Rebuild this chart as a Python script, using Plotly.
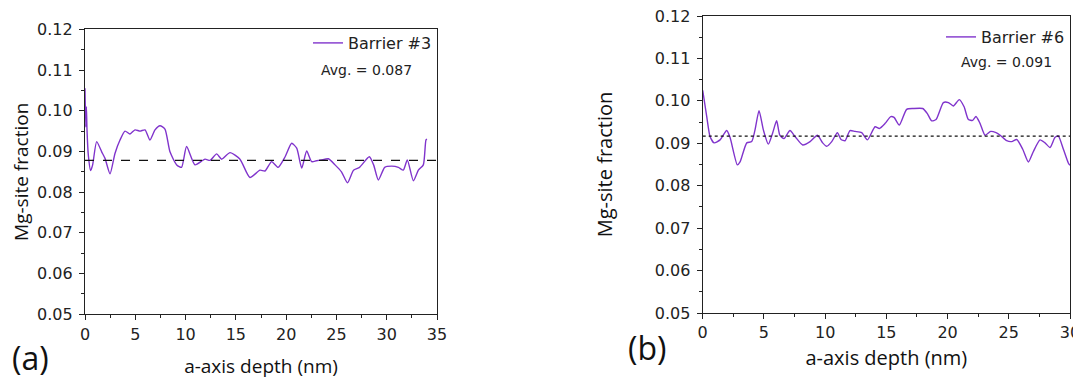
import plotly.graph_objects as go

# ---------------- data ----------------
depth_a = [0.0, 0.08, 0.14, 0.2, 0.33, 0.56, 0.76, 1.16, 1.66, 1.99, 2.49, 2.98, 3.48, 3.98, 4.47,
           4.97, 5.47, 5.97, 6.46, 6.96, 7.46, 7.95, 8.45, 9.12, 9.6, 10.1, 10.94, 11.93, 12.43,
           13.09, 13.59, 14.42, 15.41, 16.4, 17.4, 17.9, 18.56, 19.2, 19.9, 20.55, 21.05, 21.55,
           22.04, 22.54, 23.0, 23.5, 24.2, 24.86, 25.5, 26.1, 26.7, 27.3, 28.27, 28.7, 29.17,
           29.8, 30.5, 31.16, 31.65, 32.05, 32.65, 33.15, 33.64, 33.9, 34.0]
mg_a = [0.1055, 0.0960, 0.1010, 0.0953, 0.0891, 0.0853, 0.0867, 0.0924, 0.0899, 0.0883, 0.0845,
        0.0895, 0.0928, 0.0950, 0.0943, 0.0953, 0.0950, 0.0953, 0.0928, 0.0953, 0.0963, 0.0955,
        0.0899, 0.0867, 0.0861, 0.0912, 0.0867, 0.0881, 0.0878, 0.0894, 0.0881, 0.0897, 0.0881,
        0.0836, 0.0854, 0.0852, 0.0875, 0.0861, 0.0887, 0.0920, 0.0908, 0.0859, 0.0901, 0.0875,
        0.0877, 0.0879, 0.0882, 0.0867, 0.0850, 0.0823, 0.0854, 0.0861, 0.0887, 0.0867, 0.0830,
        0.0861, 0.0864, 0.0861, 0.0854, 0.0879, 0.0828, 0.0854, 0.0867, 0.0928, 0.0930]
avg_a = 0.0878
avg_a_label = "Avg. = 0.087"
name_a = "Barrier #3"

depth_b = [0.0, 0.33, 0.6, 0.93, 1.42, 1.96, 2.23, 2.83, 3.05, 3.6, 4.0, 4.27, 4.6, 4.96, 5.36,
           5.72, 6.04, 6.3, 6.64, 7.13, 7.54, 8.17, 8.77, 9.37, 9.8, 10.13, 10.54, 11.0, 11.3,
           11.63, 12.03, 12.44, 12.99, 13.45, 14.08, 14.43, 14.9, 15.36, 15.63, 16.06, 16.66,
           17.2, 17.97, 18.35, 18.7, 19.06, 19.66, 20.07, 20.47, 20.96, 21.35, 21.7, 22.05,
           22.32, 22.65, 23.06, 23.52, 23.96, 24.3, 24.83, 25.24, 25.65, 26.14, 26.6, 27.0,
           27.55, 27.96, 28.37, 28.78, 29.05, 29.46, 29.87, 30.0]
mg_b = [0.1025, 0.0963, 0.0916, 0.0901, 0.0908, 0.0930, 0.0914, 0.0849, 0.0856, 0.0901, 0.0904,
        0.0931, 0.0977, 0.0931, 0.0898, 0.0925, 0.0953, 0.0919, 0.0911, 0.0930, 0.0916, 0.0896,
        0.0904, 0.0919, 0.0901, 0.0893, 0.0904, 0.0925, 0.0909, 0.0906, 0.0930, 0.0928, 0.0925,
        0.0908, 0.0939, 0.0935, 0.0947, 0.0963, 0.0961, 0.0943, 0.0980, 0.0982, 0.0982, 0.0970,
        0.0953, 0.0956, 0.0996, 0.0996, 0.0988, 0.1003, 0.0986, 0.0956, 0.0954, 0.0963, 0.0947,
        0.0919, 0.0928, 0.0925, 0.0919, 0.0906, 0.0904, 0.0909, 0.0886, 0.0856, 0.0880, 0.0908,
        0.0901, 0.0890, 0.0914, 0.0917, 0.0886, 0.0853, 0.0848]
avg_b = 0.0917
avg_b_label = "Avg. = 0.091"
name_b = "Barrier #6"

x_range_a = [0, 35]
x_range_b = [0, 30]
y_range = [0.05, 0.12]
y_ticks = [0.05, 0.06, 0.07, 0.08, 0.09, 0.10, 0.11, 0.12]
y_tick_labels = ["0.05", "0.06", "0.07", "0.08", "0.09", "0.10", "0.11", "0.12"]
x_title = "a-axis depth (nm)"
y_title = "Mg-site fraction"
panel_labels = ["(a)", "(b)"]

# ---------------- style ----------------
W, H = 1081, 378
OFF = 8  # page body margin of the html page
PURPLE = "#8034CC"
AX = "#222222"
TICKFONT = dict(family="DejaVu Sans, Arial", size=16, color="#222")
TITLEFONT = dict(family="Open Sans, Noto Sans", size=19, color="#111")


def px(x):
    return (x - OFF) / W


def py(y):
    return 1 - (y - OFF) / H


fig = go.Figure()

fig.add_trace(go.Scatter(x=depth_a, y=mg_a, mode="lines", name=name_a,
                         line=dict(color=PURPLE, width=1.4, shape="spline", smoothing=0.6),
                         xaxis="x", yaxis="y", legend="legend"))
fig.add_trace(go.Scatter(x=x_range_a, y=[avg_a, avg_a], mode="lines", showlegend=False,
                         line=dict(color="#111", width=1.2, dash="dash"),
                         xaxis="x", yaxis="y"))
fig.add_trace(go.Scatter(x=depth_b, y=mg_b, mode="lines", name=name_b,
                         line=dict(color=PURPLE, width=1.4, shape="spline", smoothing=0.6),
                         xaxis="x2", yaxis="y2", legend="legend2"))
fig.add_trace(go.Scatter(x=x_range_b, y=[avg_b, avg_b], mode="lines", showlegend=False,
                         line=dict(color="#111", width=1.2, dash="dot"),
                         xaxis="x2", yaxis="y2"))

common_x = dict(showgrid=False, zeroline=False, showline=True, linecolor=AX, linewidth=1.2,
                mirror=True, ticks="outside", ticklen=5, tickwidth=1.1, tickcolor=AX,
                dtick=5, tick0=0, tickfont=TICKFONT, automargin=False,
                ticklabeloverflow="allow",
                minor=dict(ticks="outside", ticklen=3, dtick=2.5, tickcolor=AX, tickwidth=1))
common_y = dict(showgrid=False, zeroline=False, showline=True, linecolor=AX, linewidth=1.2,
                mirror=True, ticks="outside", ticklen=5, tickwidth=1.1, tickcolor=AX,
                tickmode="array", tickvals=y_ticks, ticktext=y_tick_labels,
                tickfont=TICKFONT, range=y_range,
                automargin=False, ticklabelstandoff=3, ticklabeloverflow="allow",
                minor=dict(ticks="outside", ticklen=3, dtick=0.005, tick0=0.05,
                           tickcolor=AX, tickwidth=1))

fig.update_layout(
    width=W, height=H, margin=dict(l=0, r=0, t=0, b=0, autoexpand=False),
    paper_bgcolor="white", plot_bgcolor="white",
    xaxis=dict(common_x, domain=[px(85), px(437)], range=x_range_a, anchor="y",
               title=dict(text=x_title, font=TITLEFONT, standoff=17)),
    yaxis=dict(common_y, domain=[py(314.3), py(29.3)], anchor="x",
               title=dict(text=y_title, font=TITLEFONT, standoff=9)),
    xaxis2=dict(common_x, domain=[px(702.7), px(1070)], range=x_range_b, anchor="y2",
                title=dict(text=x_title, font=dict(TITLEFONT, size=20), standoff=9)),
    yaxis2=dict(common_y, domain=[py(313), py(16)], anchor="x2",
                title=dict(text=y_title, font=dict(TITLEFONT, size=20), standoff=36)),
    legend=dict(x=px(437), xanchor="right", y=py(26), yanchor="top",
                bgcolor="rgba(0,0,0,0)", borderwidth=0,
                font=dict(family="DejaVu Sans, Arial", size=16, color="#222")),
    legend2=dict(x=px(1070), xanchor="right", y=py(20), yanchor="top",
                 bgcolor="rgba(0,0,0,0)", borderwidth=0,
                 font=dict(family="DejaVu Sans, Arial", size=16, color="#222")),
    annotations=[
        dict(text=avg_a_label, x=px(366), y=py(70), xref="paper", yref="paper",
             xanchor="center", yanchor="middle",
             showarrow=False, font=dict(family="DejaVu Sans, Arial", size=14, color="#222")),
        dict(text=avg_b_label, x=px(1006), y=py(62), xref="paper", yref="paper",
             xanchor="center", yanchor="middle",
             showarrow=False, font=dict(family="DejaVu Sans, Arial", size=14, color="#222")),
        dict(text=panel_labels[0], x=px(30), y=py(357), xref="paper", yref="paper",
             xanchor="center", yanchor="middle",
             showarrow=False, font=dict(family="Open Sans, Noto Sans", size=32, color="#111")),
        dict(text=panel_labels[1], x=px(647), y=py(347), xref="paper", yref="paper",
             xanchor="center", yanchor="middle",
             showarrow=False, font=dict(family="Open Sans, Noto Sans", size=32, color="#111")),
    ],
)

fig.write_html("out.html")
